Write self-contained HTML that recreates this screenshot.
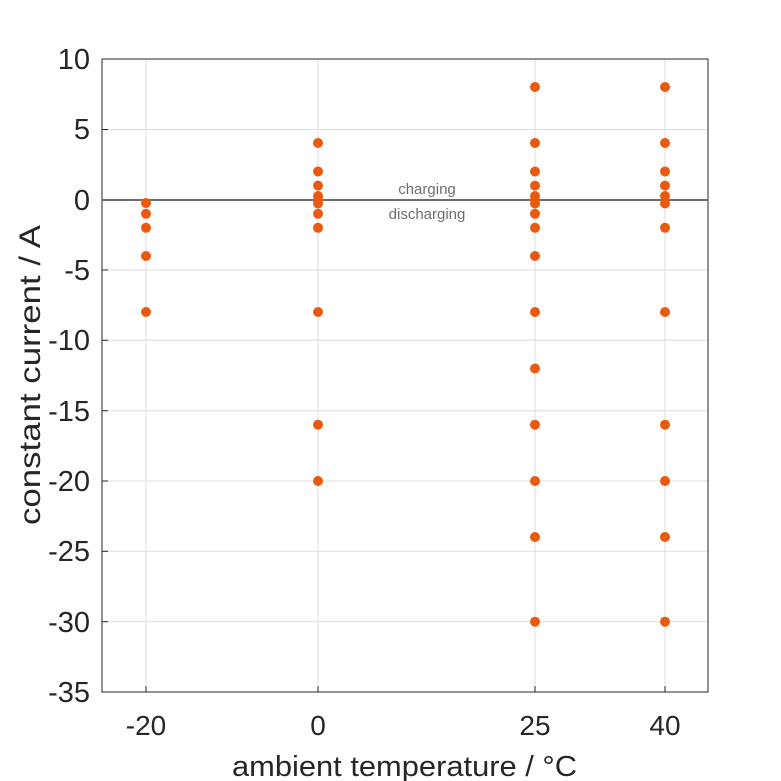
<!DOCTYPE html>
<html><head><style>body{margin:0;background:#fff}svg{display:block}</style></head><body>
<svg width="781" height="781" xmlns="http://www.w3.org/2000/svg" font-family="Liberation Sans, Arial, sans-serif">
<rect width="781" height="781" fill="#fff"/>
<g stroke="#dedede" stroke-width="1">
<line x1="146" y1="59" x2="146" y2="692"/><line x1="318" y1="59" x2="318" y2="692"/>
<line x1="535" y1="59" x2="535" y2="692"/><line x1="665" y1="59" x2="665" y2="692"/>
<line x1="102" y1="129.5" x2="708" y2="129.5"/><line x1="102" y1="270" x2="708" y2="270"/>
<line x1="102" y1="340.3" x2="708" y2="340.3"/><line x1="102" y1="410.7" x2="708" y2="410.7"/>
<line x1="102" y1="481" x2="708" y2="481"/><line x1="102" y1="551.3" x2="708" y2="551.3"/>
<line x1="102" y1="621.7" x2="708" y2="621.7"/>
</g>
<g stroke="#262626" stroke-width="1">
<line x1="102" y1="129.5" x2="108" y2="129.5"/><line x1="102" y1="270" x2="108" y2="270"/>
<line x1="102" y1="340.3" x2="108" y2="340.3"/><line x1="102" y1="410.7" x2="108" y2="410.7"/>
<line x1="102" y1="481" x2="108" y2="481"/><line x1="102" y1="551.3" x2="108" y2="551.3"/>
<line x1="102" y1="621.7" x2="108" y2="621.7"/>
<line x1="146" y1="692" x2="146" y2="686"/><line x1="318" y1="692" x2="318" y2="686"/>
<line x1="535" y1="692" x2="535" y2="686"/><line x1="665" y1="692" x2="665" y2="686"/>
</g>
<rect x="102" y="59" width="606" height="633" fill="none" stroke="#262626" stroke-width="1"/>
<line x1="102" y1="200" x2="708" y2="200" stroke="#6e6e6e" stroke-width="2"/>
<text x="427" y="194" font-size="15" fill="#6e6e6e" text-anchor="middle">charging</text>
<text x="427" y="219" font-size="15" fill="#6e6e6e" text-anchor="middle">discharging</text>
<g fill="#e95a0e">
<circle cx="146" cy="203" r="5"/><circle cx="146" cy="213.8" r="5"/><circle cx="146" cy="227.8" r="5"/><circle cx="146" cy="256" r="5"/><circle cx="146" cy="312" r="5"/>
<circle cx="318" cy="143" r="5"/><circle cx="318" cy="171.5" r="5"/><circle cx="318" cy="185.6" r="5"/><circle cx="318" cy="196" r="5"/><circle cx="318" cy="200" r="5"/><circle cx="318" cy="203.5" r="5"/><circle cx="318" cy="213.8" r="5"/><circle cx="318" cy="227.8" r="5"/><circle cx="318" cy="312" r="5"/><circle cx="318" cy="424.7" r="5"/><circle cx="318" cy="481" r="5"/>
<circle cx="535" cy="87" r="5"/><circle cx="535" cy="143" r="5"/><circle cx="535" cy="171.5" r="5"/><circle cx="535" cy="185.6" r="5"/><circle cx="535" cy="196" r="5"/><circle cx="535" cy="200" r="5"/><circle cx="535" cy="203.5" r="5"/><circle cx="535" cy="213.8" r="5"/><circle cx="535" cy="227.8" r="5"/><circle cx="535" cy="256" r="5"/><circle cx="535" cy="312" r="5"/><circle cx="535" cy="368.5" r="5"/><circle cx="535" cy="424.7" r="5"/><circle cx="535" cy="481" r="5"/><circle cx="535" cy="537" r="5"/><circle cx="535" cy="621.7" r="5"/>
<circle cx="665" cy="87" r="5"/><circle cx="665" cy="143" r="5"/><circle cx="665" cy="171.5" r="5"/><circle cx="665" cy="185.6" r="5"/><circle cx="665" cy="196" r="5"/><circle cx="665" cy="203.5" r="5"/><circle cx="665" cy="227.8" r="5"/><circle cx="665" cy="312" r="5"/><circle cx="665" cy="424.7" r="5"/><circle cx="665" cy="481" r="5"/><circle cx="665" cy="537" r="5"/><circle cx="665" cy="621.7" r="5"/>
</g>
<g font-size="29" fill="#262626" text-anchor="end">
<text x="90" y="69">10</text><text x="90" y="139">5</text><text x="90" y="210">0</text>
<text x="90" y="280">-5</text><text x="90" y="350">-10</text><text x="90" y="421">-15</text>
<text x="90" y="491">-20</text><text x="90" y="561">-25</text><text x="90" y="632">-30</text><text x="90" y="702">-35</text>
</g>
<g font-size="28" fill="#262626" text-anchor="middle">
<text x="146" y="735">-20</text><text x="318" y="735">0</text><text x="535" y="735">25</text><text x="665" y="735">40</text>
</g>
<text x="232" y="776" font-size="29" fill="#262626" textLength="345" lengthAdjust="spacingAndGlyphs">ambient temperature / °C</text>
<text transform="translate(40,375) rotate(-90)" font-size="30" fill="#262626" text-anchor="middle" textLength="300" lengthAdjust="spacingAndGlyphs">constant current / A</text>
</svg>
</body></html>
